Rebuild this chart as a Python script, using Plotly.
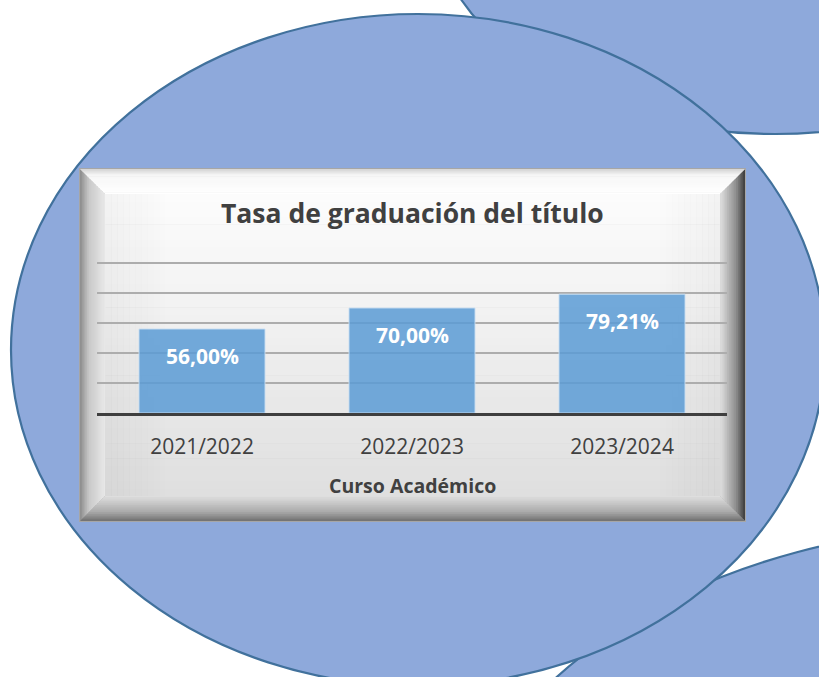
import plotly.graph_objects as go

# ---- data -------------------------------------------------------------
cursos = ["2021/2022", "2022/2023", "2023/2024"]
tasa = [56.00, 70.00, 79.21]          # tasa de graduación (%)
y_grid = [0, 20, 40, 60, 80, 100]

titulo = "Tasa de graduación del título"
titulo_eje = "Curso Académico"

FONT = "Open Sans"

# ---- canvas helpers (pixel -> paper) ---------------------------------
W, H = 819, 677


def px(x):
    return x / W


def py(y):
    return 1 - y / H


def hex_rgb(h):
    h = h.lstrip("#")
    return tuple(int(h[i:i + 2], 16) for i in (0, 2, 4))


def ramp(stops, t):
    """Colour at position t (0..1) along a list of (pos, hex) stops."""
    for (p0, c0), (p1, c1) in zip(stops[:-1], stops[1:]):
        if t <= p1:
            f = 0 if p1 == p0 else (t - p0) / (p1 - p0)
            a, b = hex_rgb(c0), hex_rgb(c1)
            return "rgb(%d,%d,%d)" % tuple(round(a[k] + (b[k] - a[k]) * f) for k in range(3))
    return "rgb(%d,%d,%d)" % hex_rgb(stops[-1][1])


def poly(points):
    return "M " + " L ".join(f"{px(x):.5f},{py(y):.5f}" for x, y in points) + " Z"


shapes = []

# ---- background ellipses ---------------------------------------------
ELL_FILL = "#8EA9DB"
ELL_LINE = "#41719C"


def ellipse(cx, cy, rx, ry):
    return dict(type="circle", xref="paper", yref="paper", layer="below",
                x0=px(cx - rx), x1=px(cx + rx), y0=py(cy + ry), y1=py(cy - ry),
                fillcolor=ELL_FILL, line=dict(color=ELL_LINE, width=2.2))


shapes.append(ellipse(775, -96, 345, 230))    # top-right
shapes.append(ellipse(1000, 900, 552, 374))   # bottom-right
shapes.append(ellipse(418, 350, 407, 336))    # main

# ---- bevelled chart panel --------------------------------------------
PL, PT, PR, PB = 80, 169, 745, 521
BEV = 25
N = 14

shapes.append(dict(type="rect", xref="paper", yref="paper", layer="below",
                   x0=px(PL - 1), x1=px(PR + 1), y0=py(PB + 1), y1=py(PT - 1),
                   fillcolor="#A6A6A6", line=dict(width=0)))

side_stops = {
    "top":    [(0, "#D2D2D2"), (0.25, "#F6F6F6"), (1, "#FFFFFF")],
    "left":   [(0, "#8A8A8A"), (0.35, "#C8C8C8"), (1, "#E9E9E9")],
    "right":  [(0, "#3A3A3A"), (0.35, "#8C8C8C"), (1, "#E2E2E2")],
    "bottom": [(0, "#6E6E6E"), (0.35, "#A8A8A8"), (1, "#E0E0E0")],
}

for i in range(N):
    t0 = BEV * i / N
    t1 = BEV * (i + 1) / N + 0.6
    f = (i + 0.5) / N
    quads = {
        "top":    [(PL + t0, PT + t0), (PR - t0, PT + t0), (PR - t1, PT + t1), (PL + t1, PT + t1)],
        "bottom": [(PL + t0, PB - t0), (PR - t0, PB - t0), (PR - t1, PB - t1), (PL + t1, PB - t1)],
        "left":   [(PL + t0, PT + t0), (PL + t1, PT + t1), (PL + t1, PB - t1), (PL + t0, PB - t0)],
        "right":  [(PR - t0, PT + t0), (PR - t1, PT + t1), (PR - t1, PB - t1), (PR - t0, PB - t0)],
    }
    for side in ("left", "right", "top", "bottom"):
        shapes.append(dict(type="path", xref="paper", yref="paper", layer="below",
                           path=poly(quads[side]), fillcolor=ramp(side_stops[side], f),
                           line=dict(width=0)))

# face: vertical gradient
FL, FT, FR, FB = PL + BEV, PT + BEV, PR - BEV, PB - BEV
face_stops = [(0, "#FCFCFC"), (0.35, "#F3F3F3"), (1, "#DFDFDF")]
NB = 40
for j in range(NB):
    y0 = FT + (FB - FT) * j / NB
    y1 = FT + (FB - FT) * (j + 1) / NB + 0.6
    shapes.append(dict(type="rect", xref="paper", yref="paper", layer="below",
                       x0=px(FL), x1=px(FR), y0=py(y1), y1=py(y0),
                       fillcolor=ramp(face_stops, j / (NB - 1)), line=dict(width=0)))

# soft shading toward the left and right edges of the face
NS = 10
for k in range(NS):
    a = 0.035 * (1 - k / NS)
    w = 6
    for x0 in (FL + k * w, FR - (k + 1) * w):
        shapes.append(dict(type="rect", xref="paper", yref="paper", layer="below",
                           x0=px(x0), x1=px(x0 + w + 0.5), y0=py(FB), y1=py(FT),
                           fillcolor=f"rgba(0,0,0,{a:.3f})", line=dict(width=0)))

# ---- figure -----------------------------------------------------------
fig = go.Figure()
fig.add_trace(go.Bar(
    x=cursos, y=tasa,
    marker=dict(color="rgba(91,155,213,0.85)",
                line=dict(color="rgba(200,222,242,0.9)", width=1)),
    hoverinfo="skip",
))

annotations = []
for c, v in zip(cursos, tasa):
    annotations.append(dict(
        x=c, y=v, xref="x", yref="y", showarrow=False, yshift=-27,
        text=f"{v:.2f}".replace(".", ",") + "%",
        font=dict(family=FONT, size=21, color="white", weight="bold"),
    ))

annotations.append(dict(x=px(412), y=py(213), xref="paper", yref="paper",
                        showarrow=False, text=titulo, xanchor="center", yanchor="middle",
                        font=dict(family=FONT, size=26.5, color="#404040", weight="bold")))
annotations.append(dict(x=px(412), y=py(485), xref="paper", yref="paper",
                        showarrow=False, text=titulo_eje, xanchor="center", yanchor="middle",
                        font=dict(family=FONT, size=19.5, color="#404040", weight="bold")))

fig.update_layout(
    width=W, height=H, autosize=False,
    margin=dict(l=0, r=0, t=0, b=0, pad=0),
    paper_bgcolor="white",
    plot_bgcolor="rgba(0,0,0,0)",
    showlegend=False,
    bargap=0.4,
    shapes=shapes,
    annotations=annotations,
    xaxis=dict(domain=[px(97), px(727)], showgrid=False, ticks="",
               showline=True, linecolor="#3F3F3F", linewidth=3,
               tickfont=dict(family=FONT, size=21, color="#404040"),
               ticklabelstandoff=13, fixedrange=True),
    yaxis=dict(domain=[py(413), py(261.5)], range=[0, 101], tickvals=y_grid,
               showticklabels=False, showgrid=True, gridcolor="#ADADAD",
               gridwidth=1.5, zeroline=False, showline=False, fixedrange=True),
)

fig.write_html("out.html")
